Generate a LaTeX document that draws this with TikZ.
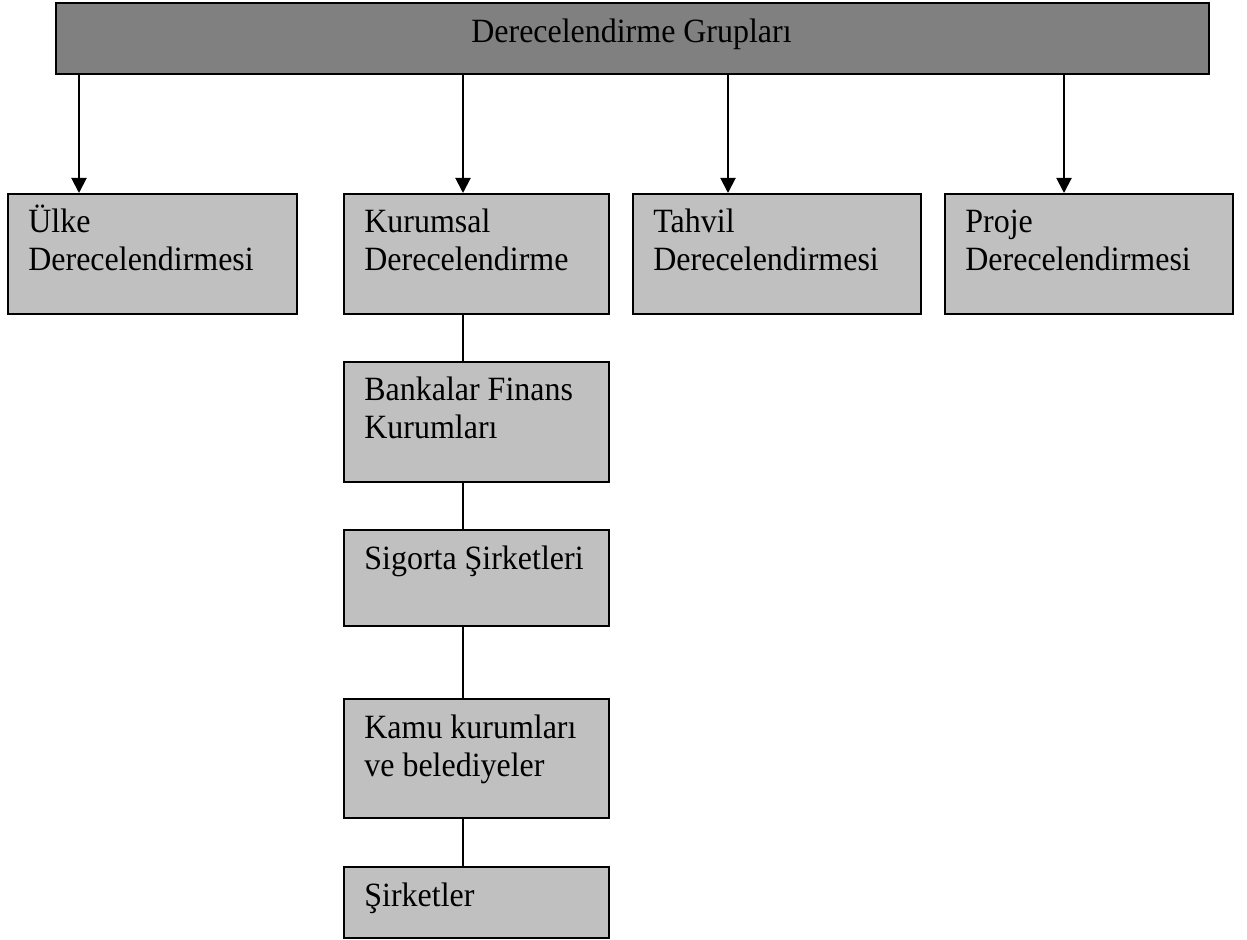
\documentclass[tikz,border=0pt]{standalone}
\usepackage{fontspec}
\setmainfont{Liberation Serif}[FakeStretch=0.94]
\usetikzlibrary{arrows.meta,calc}
\definecolor{topgray}{HTML}{808080}
\definecolor{boxgray}{HTML}{C0C0C0}
\begin{document}
\begin{tikzpicture}[x=0.5pt,y=-0.5pt,
  box/.style={draw=black,line width=1pt,fill=boxgray,anchor=north west,inner sep=0pt,minimum width=#1},
  topbox/.style={draw=black,line width=1pt,fill=topgray,anchor=north west,inner sep=0pt},
  txt/.style={anchor=base west,inner sep=0pt,font=\fontsize{17}{19}\selectfont},
  arr/.style={line width=1pt,-{Triangle[width=7.5pt,length=7.5pt]}},
  conn/.style={line width=1pt}]
\useasboundingbox (0,0) rectangle (1247,940);
% top box
\node[topbox,minimum width=576.5pt,minimum height=35.5pt] (top) at (55,2) {};
\node[anchor=base,inner sep=0pt,font=\fontsize{17}{19}\selectfont] (toptxt) at (631.5,43) {Derecelendirme Grupları};
% first row
\node[box=144.5pt,minimum height=60pt] (ulke) at (7,193) {};
\node[box=132.5pt,minimum height=60pt] (kur) at (343,193) {};
\node[box=144pt,minimum height=60pt] (tah) at (632,193) {};
\node[box=144pt,minimum height=60pt] (pro) at (944,193) {};
% column
\node[box=132.5pt,minimum height=60pt] (ban) at (343,361) {};
\node[box=132.5pt,minimum height=48pt] (sig) at (343,529) {};
\node[box=132.5pt,minimum height=59.5pt] (kam) at (343,698) {};
\node[box=132.5pt,minimum height=35.5pt] (sir) at (343,866) {};
% texts
\node[txt] (ulket) at ($(ulke.north west)+(21,40)$) {\parbox[t]{130pt}{Ülke\\Derecelendirmesi}};
\node[txt] (kurt) at ($(kur.north west)+(21,40)$) {\parbox[t]{130pt}{Kurumsal\\Derecelendirme}};
\node[txt] (taht) at ($(tah.north west)+(21,40)$) {\parbox[t]{130pt}{Tahvil\\Derecelendirmesi}};
\node[txt] (prot) at ($(pro.north west)+(21,40)$) {\parbox[t]{130pt}{Proje\\Derecelendirmesi}};
\node[txt] (bant) at ($(ban.north west)+(21,40)$) {\parbox[t]{130pt}{Bankalar Finans\\Kurumları}};
\node[txt] (sigt) at ($(sig.north west)+(21,40)$) {Sigorta Şirketleri};
\node[txt] (kamt) at ($(kam.north west)+(21,40)$) {\parbox[t]{130pt}{Kamu kurumları\\ve belediyeler}};
\node[txt] (sirt) at ($(sir.north west)+(21,40)$) {Şirketler};
% arrow targets
\coordinate (a1) at ($(ulke.north west)+(72,0)$);
\coordinate (a2) at ($(kur.north west)+(120,0)$);
\coordinate (a3) at ($(tah.north west)+(96,0)$);
\coordinate (a4) at ($(pro.north west)+(120,0)$);
\draw[arr] (top.south -| a1) -- (a1);
\draw[arr] (top.south -| a2) -- (a2);
\draw[arr] (top.south -| a3) -- (a3);
\draw[arr] (top.south -| a4) -- (a4);
% vertical connectors
\draw[conn] (kur.south -| a2) -- (ban.north -| a2);
\draw[conn] (ban.south -| a2) -- (sig.north -| a2);
\draw[conn] (sig.south -| a2) -- (kam.north -| a2);
\draw[conn] (kam.south -| a2) -- (sir.north -| a2);
\end{tikzpicture}
\end{document}
